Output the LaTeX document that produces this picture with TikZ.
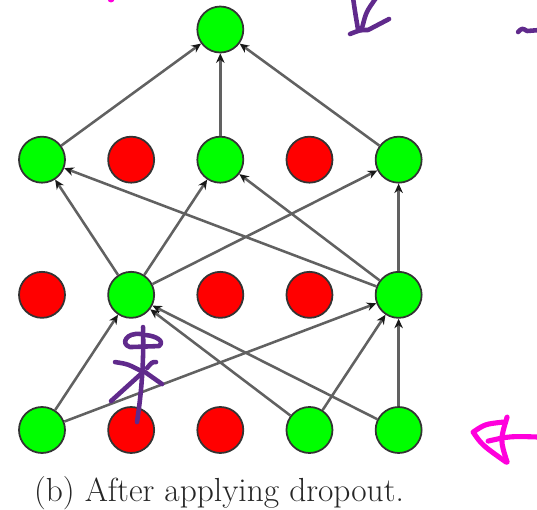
\documentclass[tikz,border=0pt]{standalone}
\usetikzlibrary{arrows.meta,positioning}
\definecolor{unitgreen}{RGB}{0,255,0}
\definecolor{unitred}{RGB}{255,0,0}
\definecolor{inkpurple}{RGB}{96,42,140}
\definecolor{inkpink}{RGB}{255,0,220}
\tikzset{
  unit/.style   ={circle, draw=black!80, line width=1pt, minimum size=9.2mm, inner sep=0pt},
  kept/.style   ={unit, fill=unitgreen},
  dropped/.style={unit, fill=unitred},
  arr/.style    ={-{Stealth[length=1.9mm,width=1.7mm,color=black!90]}, line width=1.45pt, draw=black!62},
  ink/.style    ={line width=2.6pt, line cap=round, line join=round},
  capt/.style   ={font=\fontsize{19}{22}\selectfont, text=black!85},
}

\begin{document}
\begin{tikzpicture}[node distance=17.48mm and 8.28mm]
  \useasboundingbox (0,0) rectangle (10.74,-10.2);

  % input layer
  \node[kept] (in1) at (0.84,-8.6) {};
  \node[dropped, right=of in1] (in2) {};
  \node[dropped, right=of in2] (in3) {};
  \node[kept, right=of in3] (in4) {};
  \node[kept, right=of in4] (in5) {};

  % first hidden layer
  \node[dropped, above=of in1] (ha1) {};
  \node[kept, right=of ha1] (ha2) {};
  \node[dropped, right=of ha2] (ha3) {};
  \node[dropped, right=of ha3] (ha4) {};
  \node[kept, right=of ha4] (ha5) {};

  % second hidden layer
  \node[kept, above=of ha1] (hb1) {};
  \node[dropped, right=of hb1] (hb2) {};
  \node[kept, right=of hb2] (hb3) {};
  \node[dropped, right=of hb3] (hb4) {};
  \node[kept, right=of hb4] (hb5) {};

  \node[kept, above=16.48mm of hb3] (out) {};

  \node[capt] (cap) at (4.38,-9.86) {(b) After applying dropout.};

  \draw[arr] (in1) -- (ha2);
  \draw[arr] (in1) -- (ha5);
  \draw[arr] (in4) -- (ha2);
  \draw[arr] (in4) -- (ha5);
  \draw[arr] (in5) -- (ha2);
  \draw[arr] (in5) -- (ha5);

  \draw[arr] (ha2) -- (hb1);
  \draw[arr] (ha2) -- (hb3);
  \draw[arr] (ha2) -- (hb5);
  \draw[arr] (ha5) -- (hb1);
  \draw[arr] (ha5) -- (hb3);
  \draw[arr] (ha5) -- (hb5);

  \draw[arr] (hb1) -- (out);
  \draw[arr] (hb3) -- (out);
  \draw[arr] (hb5) -- (out);

  % hand-drawn marks
  \begin{scope}[x=0.02cm, y=-0.02cm]
    \draw[ink, inkpurple] (353,-2) .. controls (355,12) .. (358,30);
    \draw[ink, inkpurple] (376,-2) .. controls (366,12) .. (362,28);
    \draw[ink, inkpurple] (350,34) .. controls (360,30) .. (368,30) .. controls (378,24) .. (389,19);
    \draw[ink, inkpurple] (518,32) .. controls (522,28) .. (527,31) -- (540,30);
    \fill[inkpink] (111,-1) circle (3.5);

    \draw[ink, inkpurple] (143,327) .. controls (144,365) and (141,395) .. (137,422);
    \draw[ink, inkpurple] (141,334) .. controls (126,332) and (120,344) .. (130,347) -- (159,346) .. controls (165,341) and (156,336) .. (146,335);
    \draw[ink, inkpurple] (115,362) .. controls (128,364) .. (143,372);
    \draw[ink, inkpurple] (147,368) .. controls (152,362) .. (156,362);
    \draw[ink, inkpurple] (143,372) -- (111,401);
    \draw[ink, inkpurple] (145,372) -- (162,384);

    \draw[ink, inkpink, line width=2.9pt] (507,417) .. controls (500,440) .. (507,462);
    \draw[ink, inkpink, line width=2.9pt] (503,422) .. controls (485,424) .. (473,432) .. controls (482,445) .. (506,462);
    \draw[ink, inkpink, line width=2.9pt] (488,441) .. controls (510,436) .. (540,437);
  \end{scope}
\end{tikzpicture}
\end{document}
